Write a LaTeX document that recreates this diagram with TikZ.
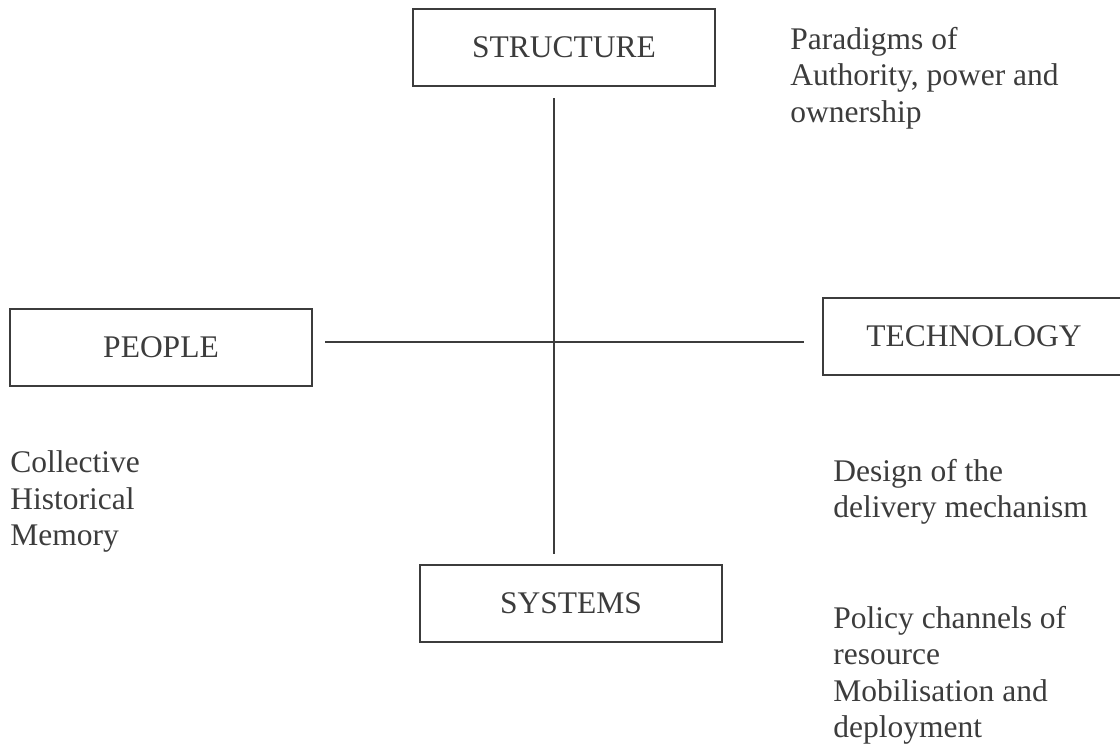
\documentclass[tikz,border=0pt]{standalone}
\usepackage{fontspec}
\setmainfont{Liberation Serif}
\begin{document}
\begin{tikzpicture}[x=0.5pt, y=-0.5pt,
  every node/.style={text=ink, font=\fontsize{15.75}{18.25}\selectfont},
  box/.style={draw=ink, line width=1pt, minimum width=151pt, minimum height=38.5pt, inner sep=0pt},
  note/.style={anchor=north west, align=left, inner sep=0pt},
  link/.style={draw=ink, line width=1pt}]
\definecolor{ink}{HTML}{3C3C3C}
\clip (0,0) rectangle (1120,751);
% the four boxes
\node[box] (structure) at (564,47.5) {STRUCTURE};
\node[box] (people) at (161,347.5) {PEOPLE};
\node[box] (technology) at (974,336.5) {TECHNOLOGY};
\node[box] (systems) at (571,603.5) {SYSTEMS};
% the cross
\coordinate (hub) at (554,342);
\draw[link, shorten <=5.5pt, shorten >=5pt] (hub |- structure.south) -- (hub |- systems.north);
\draw[link, shorten <=6pt, shorten >=9pt] (people.east |- hub) -- (technology.west |- hub);
% notes
\node[note] (authority) at (790,26.5) {Paradigms of\\Authority, power and\\ownership};
\node[note] (memory) at (10,450.5) {Collective\\Historical\\Memory};
\node[note] (delivery) at (833,458.5) {Design of the\\delivery mechanism};
\node[note] (policy) at (833,605.5) {Policy channels of\\resource\\Mobilisation and\\deployment};
\end{tikzpicture}
\end{document}
